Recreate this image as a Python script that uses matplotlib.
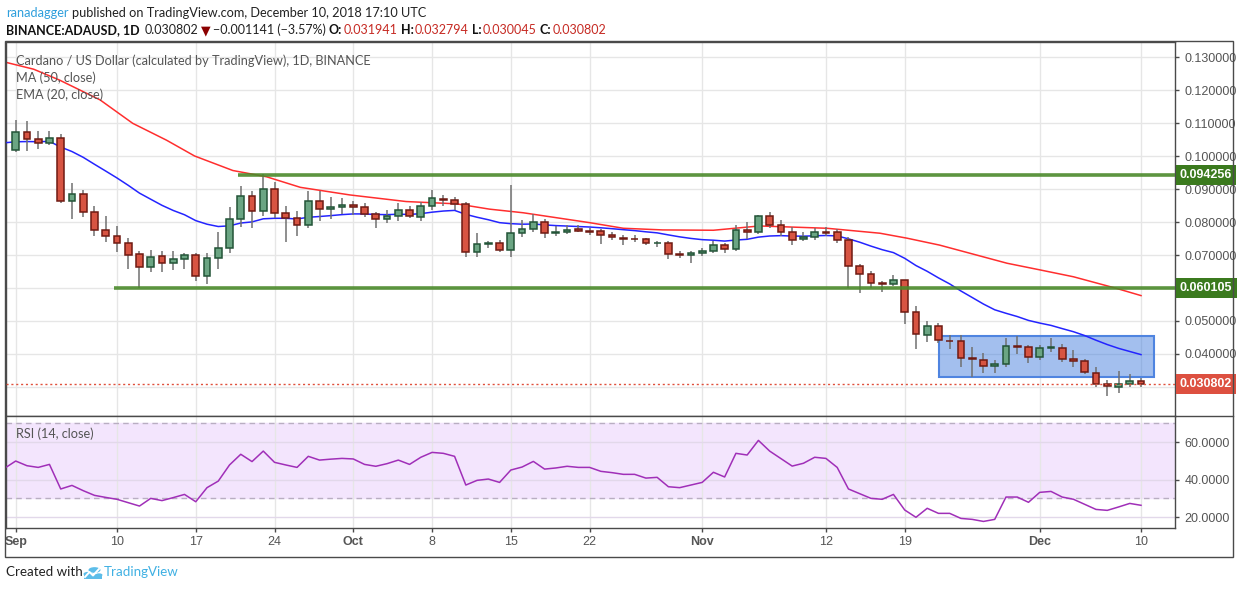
import matplotlib
matplotlib.use('Agg')
import matplotlib.pyplot as plt
from matplotlib.patches import Rectangle, Circle
import numpy as np

# ---------------- data ----------------
days = list(range(0, 101))  # 0 = Sep 1 2018 ... 100 = Dec 10 2018
opens = [0.1017, 0.1072, 0.1051, 0.1039, 0.1054, 0.0863, 0.0884, 0.0829, 0.0775, 0.0757,
         0.0735, 0.0702, 0.0663, 0.0696, 0.0675, 0.0687, 0.0699, 0.0635, 0.0690, 0.0720,
         0.0808, 0.0878, 0.0832, 0.0899, 0.0826, 0.0811, 0.0790, 0.0863, 0.0839, 0.0845,
         0.0851, 0.0845, 0.0823, 0.0808, 0.0817, 0.0836, 0.0814, 0.0848, 0.0869, 0.0866,
         0.0854, 0.0708, 0.0732, 0.0735, 0.0714, 0.0766, 0.0778, 0.0799, 0.0766, 0.0769,
         0.0778, 0.0772, 0.0772, 0.0760, 0.0751, 0.0749, 0.0748, 0.0736, 0.0736, 0.0702,
         0.0699, 0.0705, 0.0711, 0.0729, 0.0717, 0.0775, 0.0769, 0.0817, 0.0790, 0.0769,
         0.0748, 0.0754, 0.0770, 0.0769, 0.0745, 0.0666, 0.0642, 0.0615, 0.0611, 0.0623,
         0.0526, 0.0457, 0.0484, 0.0440, 0.0439, 0.0387, 0.0381, 0.0363, 0.0369, 0.0423,
         0.0420, 0.0390, 0.0417, 0.0417, 0.0384, 0.0378, 0.0342, 0.0308, 0.0299, 0.0308,
         0.031941]
highs = [0.1109, 0.1106, 0.1076, 0.1076, 0.1066, 0.0919, 0.0897, 0.0848, 0.0818, 0.0788,
         0.0752, 0.0713, 0.0715, 0.0712, 0.0711, 0.0705, 0.0705, 0.0705, 0.0769, 0.0845,
         0.0908, 0.0893, 0.0945, 0.0921, 0.0848, 0.0833, 0.0894, 0.0893, 0.0875, 0.0872,
         0.0863, 0.0857, 0.0829, 0.0835, 0.0857, 0.0848, 0.0860, 0.0896, 0.0881, 0.0875,
         0.0860, 0.0766, 0.0741, 0.0744, 0.0912, 0.0805, 0.0823, 0.0808, 0.0787, 0.0790,
         0.0790, 0.0781, 0.0778, 0.0769, 0.0760, 0.0760, 0.0751, 0.0742, 0.0742, 0.0711,
         0.0712, 0.0720, 0.0742, 0.0736, 0.0792, 0.0799, 0.0820, 0.0829, 0.0805, 0.0784,
         0.0769, 0.0781, 0.0784, 0.0778, 0.0754, 0.0672, 0.0651, 0.0620, 0.0638, 0.0623,
         0.0545, 0.0499, 0.0493, 0.0457, 0.0457, 0.0420, 0.0402, 0.0381, 0.0448, 0.0454,
         0.0427, 0.0427, 0.0448, 0.0430, 0.0411, 0.0384, 0.0360, 0.0320, 0.0348, 0.0339,
         0.032794]
lows = [0.1013, 0.1016, 0.1020, 0.1033, 0.0857, 0.0808, 0.0816, 0.0759, 0.0740, 0.0710,
        0.0657, 0.0601, 0.0647, 0.0647, 0.0655, 0.0657, 0.0622, 0.0612, 0.0657, 0.0707,
        0.0784, 0.0781, 0.0817, 0.0811, 0.0739, 0.0757, 0.0781, 0.0802, 0.0808, 0.0823,
        0.0820, 0.0814, 0.0781, 0.0796, 0.0802, 0.0811, 0.0802, 0.0836, 0.0848, 0.0836,
        0.0693, 0.0693, 0.0721, 0.0708, 0.0693, 0.0754, 0.0769, 0.0751, 0.0757, 0.0763,
        0.0769, 0.0761, 0.0734, 0.0745, 0.0730, 0.0739, 0.0730, 0.0724, 0.0689, 0.0690,
        0.0677, 0.0696, 0.0705, 0.0705, 0.0711, 0.0748, 0.0763, 0.0781, 0.0757, 0.0730,
        0.0742, 0.0745, 0.0757, 0.0736, 0.0599, 0.0584, 0.0599, 0.0587, 0.0605, 0.0490,
        0.0416, 0.0436, 0.0433, 0.0415, 0.0360, 0.0331, 0.0342, 0.0342, 0.0360, 0.0399,
        0.0372, 0.0381, 0.0405, 0.0375, 0.0360, 0.0339, 0.0301, 0.0274, 0.0283, 0.0301,
        0.030045]
closes = [0.1072, 0.1051, 0.1039, 0.1054, 0.0864, 0.0884, 0.0829, 0.0775, 0.0759, 0.0735,
          0.0699, 0.0663, 0.0693, 0.0675, 0.0687, 0.0699, 0.0635, 0.0690, 0.0720, 0.0808,
          0.0878, 0.0832, 0.0899, 0.0826, 0.0811, 0.0790, 0.0863, 0.0839, 0.0845, 0.0851,
          0.0845, 0.0823, 0.0808, 0.0817, 0.0836, 0.0817, 0.0848, 0.0872, 0.0866, 0.0854,
          0.0708, 0.0732, 0.0735, 0.0714, 0.0766, 0.0778, 0.0799, 0.0766, 0.0769, 0.0775,
          0.0772, 0.0771, 0.0760, 0.0754, 0.0748, 0.0747, 0.0736, 0.0737, 0.0702, 0.0699,
          0.0705, 0.0711, 0.0729, 0.0717, 0.0775, 0.0769, 0.0817, 0.0790, 0.0769, 0.0745,
          0.0754, 0.0769, 0.0768, 0.0745, 0.0666, 0.0642, 0.0614, 0.0613, 0.0623, 0.0526,
          0.0460, 0.0484, 0.0442, 0.0438, 0.0387, 0.0384, 0.0363, 0.0369, 0.0423, 0.0420,
          0.0390, 0.0417, 0.0420, 0.0384, 0.0378, 0.0345, 0.0308, 0.0304, 0.0308, 0.0317,
          0.030802]

# MA(50) (day position, value)
ma_days = [-1.0, 1.6, 3.9, 7.5, 10.4, 13.4, 15.9, 19.3, 22.3, 25.3, 29.7, 34.7, 39.2,
           42.1, 45.1, 51.0, 54.0, 57.5, 62.0, 66.1, 72.1, 76.8, 79.2, 82.1, 88.1, 91.0,
           94.0, 97.8, 100.0]
ma_vals = [0.1285, 0.1263, 0.1230, 0.1170, 0.1099, 0.1048, 0.1000, 0.0956, 0.0937, 0.0905,
           0.0882, 0.0862, 0.0855, 0.0839, 0.0828, 0.0798, 0.0781, 0.0776, 0.0775, 0.0788,
           0.0781, 0.0766, 0.0751, 0.0730, 0.0675, 0.0655, 0.0634, 0.0599, 0.0577]

ema_seed = 0.1040  # EMA(20) value at day -1
ema_len = 20

# RSI(14), days -1 .. 100
rsi_days = list(range(-1, 101))
rsi_vals = [46.0, 49.9, 47.4, 46.5, 48.1, 35.0, 36.9, 34.1, 31.6, 30.5, 29.5,
            27.7, 25.9, 30.0, 28.8, 30.4, 32.1, 28.2, 35.7, 39.2, 47.8,
            53.5, 49.6, 55.2, 49.2, 47.8, 46.5, 52.4, 50.4, 50.9, 51.3,
            51.0, 48.1, 47.1, 48.5, 50.4, 48.1, 51.9, 54.5, 54.0, 52.4,
            37.1, 39.6, 40.3, 38.5, 45.1, 46.7, 49.7, 45.6, 46.2, 47.1,
            46.5, 46.5, 44.4, 43.7, 42.8, 42.8, 40.8, 41.2, 36.2, 35.7,
            37.1, 38.5, 43.9, 41.4, 54.0, 53.1, 60.9, 55.2, 51.2, 47.2,
            48.7, 51.9, 51.3, 46.5, 35.0, 32.5, 30.0, 29.5, 32.1, 23.8,
            19.9, 24.7, 22.0, 22.0, 19.3, 18.8, 17.7, 18.8, 30.7, 30.7,
            27.9, 33.2, 33.7, 30.7, 29.5, 26.8, 24.1, 23.6, 25.4, 27.3,
            26.3]

tick_days = [0, 9, 16, 23, 30, 37, 44, 51, 61, 72, 79, 91, 100]
tick_labels = ['Sep', '10', '17', '24', 'Oct', '8', '15', '22', 'Nov', '12', '19', 'Dec', '10']
month_labels = ['Sep', 'Oct', 'Nov', 'Dec']

price_ticks = [0.04, 0.05, 0.06, 0.07, 0.08, 0.09, 0.10, 0.11, 0.12, 0.13]
rsi_ticks = [20, 40, 60]

resistance = 0.094256
resistance_start = 19.75
support = 0.060105
support_start = 8.76
box_days = [82.07, 101.18]
box_prices = [0.03294, 0.04556]
last_close = 0.030802

# ---------------- figure ----------------
W, H = 1240, 590
fig = plt.figure(figsize=(W / 100, H / 100), dpi=100)
fig.patch.set_facecolor('white')


def fx(x):
    return x / W


def fy(y):
    return 1 - y / H


FONT = ['Lato', 'DejaVu Sans']
AXFONT = ['Liberation Sans', 'DejaVu Sans']
DARK = '#4a4a4a'
GRID = '#e6e6e6'

ax = fig.add_axes([fx(6), fy(416), fx(1175) - fx(6), fy(42) - fy(416)])
axr = fig.add_axes([fx(6), fy(528), fx(1175) - fx(6), fy(416) - fy(528)], sharex=ax)

xmin, xmax = -0.862, 103.02
ax.set_xlim(xmin, xmax)
ax.set_ylim(0.02121, 0.13455)
axr.set_ylim(14.2, 73.9)

for a in (ax, axr):
    a.set_facecolor('white')
    for s in a.spines.values():
        s.set_color(DARK)
        s.set_linewidth(1)
    for d in tick_days:
        a.axvline(d, color=GRID, lw=1, zorder=0.5)

# horizontal grid
for p in price_ticks + [0.03]:
    ax.axhline(p, color=GRID, lw=1, zorder=0.5)

# ---- main pane ----
ax.add_patch(Rectangle((box_days[0], box_prices[0]), box_days[1] - box_days[0],
                       box_prices[1] - box_prices[0], facecolor=(0.20, 0.45, 0.86, 0.45),
                       edgecolor='#4f84e0', lw=1.5, zorder=1.5))

ax.plot(ma_days, ma_vals, color='#ff2e2e', lw=1.1, zorder=2.5)
ema = [ema_seed]
alpha = 2.0 / (ema_len + 1)
for c in closes:
    ema.append(ema[-1] + alpha * (c - ema[-1]))
ax.plot([-1] + days, ema, color='#2424ff', lw=1.1, zorder=2.6)

up_fc, up_ec = '#6ba583', '#225437'
dn_fc, dn_ec = '#d75442', '#6f1a12'
fcs, ecs, bottoms, heights = [], [], [], []
for o, c in zip(opens, closes):
    up = c >= o
    fcs.append(up_fc if up else dn_fc)
    ecs.append(up_ec if up else dn_ec)
    bottoms.append(min(o, c))
    heights.append(abs(c - o))
ax.vlines(days, lows, highs, color='#707070', lw=1.1, zorder=3)
ax.bar(days, heights, bottom=bottoms, width=0.6, color=fcs, edgecolor=ecs,
       linewidth=1.1, zorder=4)

ax.plot([resistance_start, xmax], [resistance, resistance], color='#4b8a2b', lw=2.6,
        alpha=0.9, zorder=5, solid_capstyle='butt')
ax.plot([support_start, xmax], [support, support], color='#4b8a2b', lw=2.6,
        alpha=0.9, zorder=5, solid_capstyle='butt')
ax.axhline(last_close, color='#e0503c', lw=1, ls=(0, (1.5, 2)), zorder=5)

# price axis (0.060000 label is hidden under the 0.060105 box in the original)
ax.yaxis.tick_right()
ax.set_yticks(price_ticks)
ax.set_yticklabels(['' if abs(p - 0.06) < 1e-9 else '%.6f' % p for p in price_ticks])
ax.tick_params(axis='y', length=3, width=1, color=DARK, pad=4, labelsize=9,
               labelcolor='#555555')
ax.tick_params(axis='x', length=0, labelbottom=False)
for t in ax.get_yticklabels():
    t.set_family(AXFONT)

for val, col in ((resistance, '#3b7a1e'), (support, '#3b7a1e'), (last_close, '#dd5040')):
    ax.annotate('%.6f' % val, xy=(1, val), xycoords=('axes fraction', 'data'),
                xytext=(5, 0), textcoords='offset pixels', va='center', ha='left',
                fontsize=9, color='white', fontweight='bold', family=AXFONT,
                bbox=dict(boxstyle='square,pad=0.32', fc=col, ec='none'),
                annotation_clip=False, zorder=10)

# ---- RSI pane ----
axr.axhspan(30, 70, color='#f3e5fd', zorder=0.2)
for v in rsi_ticks:
    axr.axhline(v, color='#e2d8ea', lw=1, zorder=0.6)
for v in (30, 70):
    axr.axhline(v, color='#b9aec2', lw=1, ls=(0, (4, 3)), zorder=0.7)
axr.plot(rsi_days, rsi_vals, color='#a02fb8', lw=1.1, zorder=3)
axr.yaxis.tick_right()
axr.set_yticks(rsi_ticks)
axr.set_yticklabels(['%.4f' % v for v in rsi_ticks])
axr.tick_params(axis='y', length=3, width=1, color=DARK, pad=4, labelsize=9,
                labelcolor='#555555')
axr.set_xticks(tick_days)
axr.set_xticklabels(tick_labels)
axr.tick_params(axis='x', length=3, width=1, color=DARK, pad=3, labelsize=9,
                labelcolor='#555555')
for t in axr.get_xticklabels() + axr.get_yticklabels():
    t.set_family(AXFONT)
    if t.get_text() in month_labels:
        t.set_fontweight('bold')
axr.set_xlim(xmin, xmax)

# ---- frame ----
fig.add_artist(Rectangle((fx(5), fy(557)), fx(1233) - fx(5), fy(41) - fy(557),
                         transform=fig.transFigure, fill=False, ec=DARK, lw=1))
fig.add_artist(plt.Line2D([fx(1175), fx(1233)], [fy(416), fy(416)],
                          transform=fig.transFigure, color=DARK, lw=1))

# ---- pane labels ----
LBL = 9.2
fig.text(fx(15.5), fy(61), 'Cardano / US Dollar (calculated by TradingView), 1D, BINANCE',
         color='#555555', fontsize=LBL, va='center', ha='left', family=FONT)
fig.text(fx(15.5), fy(78), 'MA (50, close)', color='#555555', fontsize=LBL,
         va='center', ha='left', family=FONT)
fig.text(fx(15.5), fy(94.5), 'EMA (20, close)', color='#555555', fontsize=LBL,
         va='center', ha='left', family=FONT)
fig.text(fx(15.5), fy(434), 'RSI (14, close)', color='#555555', fontsize=LBL,
         va='center', ha='left', family=FONT)

# ---- header ----
renderer = fig.canvas.get_renderer()


def seq(x, y, parts, size):
    for s, color, weight, gap in parts:
        t = fig.text(fx(x), fy(y), s, color=color, fontweight=weight, fontsize=size,
                     va='center', ha='left', family=FONT)
        bb = t.get_window_extent(renderer=renderer)
        x = bb.x1 + gap


seq(6, 13, [('ranadagger', '#2f9fdc', 'normal', 3.5),
            ('published on TradingView.com, December 10, 2018 17:10 UTC', '#222222', 'normal', 0)],
    9.2)
red = '#c62a23'
seq(6, 30, [('BINANCE:ADAUSD, 1D', '#111111', 'bold', 5),
            ('0.030802', '#222222', 'normal', 3),
            ('\u25BC', '#8b0000', 'normal', 2),
            ('\u22120.001141 (\u22123.57%)', '#222222', 'normal', 3),
            ('O:', '#111111', 'bold', 1), ('0.031941', red, 'normal', 3.5),
            ('H:', '#111111', 'bold', 1), ('0.032794', red, 'normal', 3.5),
            ('L:', '#111111', 'bold', 1), ('0.030045', red, 'normal', 3.5),
            ('C:', '#111111', 'bold', 1), ('0.030802', red, 'normal', 0)],
    9.0)

# ---- footer ----
fig.text(fx(6), fy(572), 'Created with', color='#222222', fontsize=9.6, va='center',
         ha='left', family=FONT)
logo_c = '#5cbde9'
for (cx, cy, r) in ((88, 574, 4.5), (94.5, 570, 6), (99, 575, 3.5)):
    fig.add_artist(Circle((fx(cx), fy(cy)), r / W, transform=fig.transFigure,
                          fc=logo_c, ec='none'))
fig.add_artist(Rectangle((fx(84), fy(579)), fx(102) - fx(84), fy(574) - fy(579),
                         transform=fig.transFigure, fc=logo_c, ec='none'))
fig.add_artist(plt.Line2D([fx(85), fx(89.5), fx(93), fx(99)], [fy(577), fy(572), fy(575.5), fy(569)],
                          transform=fig.transFigure, color='white', lw=1.4))
fig.text(fx(104), fy(572), 'TradingView', color='#3fb0e3', fontsize=9.6, va='center',
         ha='left', family=FONT)

fig.savefig('out.png', dpi=100, facecolor='white')
